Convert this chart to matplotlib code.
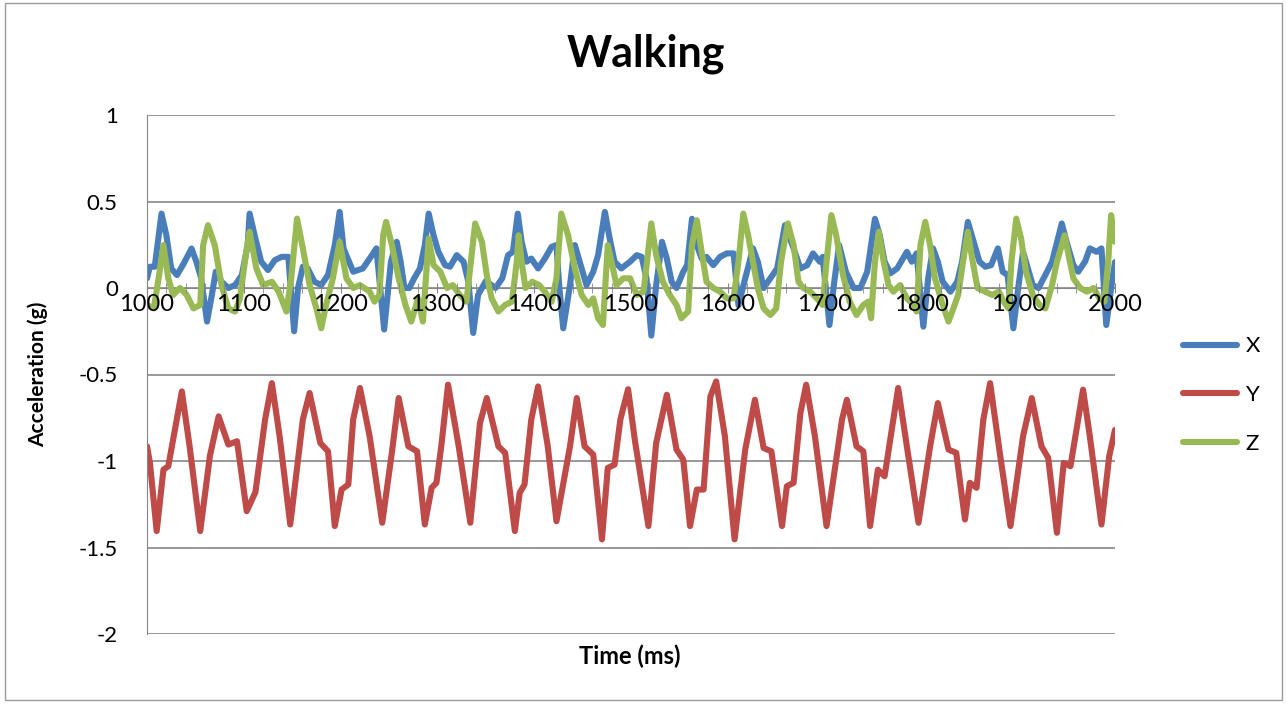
import matplotlib.pyplot as plt
from matplotlib.patches import Rectangle

# accelerometer trace, walking, 1000-2000 ms
t_x = [1000, 1003, 1008, 1015, 1020, 1025, 1031, 1037, 1046, 1051, 1056, 1062, 1067, 1071, 1077, 1084,
       1091, 1098, 1104, 1106, 1112, 1118, 1125, 1132, 1139, 1146, 1152, 1156, 1161, 1166, 1173, 1180,
       1187, 1194, 1199, 1203, 1213, 1223, 1230, 1237, 1245, 1252, 1258, 1262, 1266, 1271, 1276, 1282,
       1287, 1291, 1296, 1301, 1308, 1313, 1320, 1327, 1332, 1337, 1342, 1350, 1360, 1367, 1373, 1378,
       1383, 1387, 1392, 1397, 1404, 1411, 1418, 1423, 1426, 1430, 1437, 1442, 1447, 1454, 1461, 1466,
       1473, 1478, 1483, 1490, 1499, 1506, 1511, 1516, 1521, 1526, 1532, 1537, 1542, 1547, 1554, 1558,
       1563, 1568, 1573, 1578, 1585, 1592, 1599, 1606, 1611, 1618, 1626, 1631, 1637, 1644, 1651, 1659,
       1668, 1675, 1682, 1688, 1695, 1698, 1705, 1710, 1715, 1722, 1730, 1737, 1744, 1752, 1757, 1762,
       1768, 1775, 1781, 1785, 1790, 1795, 1802, 1807, 1812, 1817, 1822, 1830, 1837, 1842, 1848, 1853,
       1860, 1866, 1872, 1879, 1884, 1889, 1895, 1900, 1905, 1910, 1915, 1921, 1928, 1935, 1945, 1950,
       1957, 1962, 1969, 1974, 1981, 1986, 1991, 1996, 2000]
acc_x = [0.056, 0.123, 0.123, 0.43, 0.305, 0.113, 0.075, 0.132, 0.228, 0.152, 0.056, -0.194, -0.04, 0.094, 0.036, 0.0,
         0.017, 0.075, 0.248, 0.43, 0.286, 0.152, 0.104, 0.161, 0.18, 0.18, -0.25, 0.0, 0.123, 0.113, 0.036, 0.017,
         0.075, 0.248, 0.44, 0.229, 0.094, 0.113, 0.17, 0.229, -0.24, 0.152, 0.267, 0.152, 0.0, 0.0, 0.056, 0.113,
         0.248, 0.43, 0.305, 0.209, 0.132, 0.123, 0.19, 0.152, 0.036, -0.26, -0.04, 0.04, 0.0, 0.056, 0.19, 0.209,
         0.43, 0.267, 0.152, 0.17, 0.113, 0.17, 0.238, 0.248, 0.0, -0.233, 0.017, 0.248, 0.152, 0.017, 0.094, 0.19,
         0.44, 0.286, 0.152, 0.113, 0.152, 0.19, 0.18, 0.056, -0.275, 0.017, 0.267, 0.17, 0.036, 0.0, 0.094, 0.132,
         0.4, 0.248, 0.17, 0.18, 0.132, 0.18, 0.2, 0.2, -0.1, 0.056, 0.229, 0.152, 0.0, 0.056, 0.113, 0.363,
         0.229, 0.113, 0.132, 0.2, 0.152, 0.18, -0.214, 0.036, 0.248, 0.094, 0.0, 0.0, 0.094, 0.4, 0.305, 0.152,
         0.085, 0.113, 0.17, 0.209, 0.152, 0.2, -0.223, 0.056, 0.229, 0.152, 0.036, -0.021, 0.036, 0.152, 0.382, 0.286,
         0.152, 0.123, 0.132, 0.229, 0.094, 0.075, -0.233, 0.0, 0.209, 0.113, 0.017, 0.0, 0.075, 0.152, 0.373, 0.267,
         0.132, 0.094, 0.152, 0.229, 0.209, 0.229, -0.214, 0.0, 0.15]

t_y = [1000, 1003, 1010, 1017, 1022, 1036, 1044, 1055, 1065, 1074, 1084, 1093, 1103, 1112, 1122, 1129,
       1137, 1148, 1161, 1168, 1179, 1187, 1194, 1201, 1208, 1213, 1220, 1230, 1243, 1253, 1260, 1270,
       1279, 1287, 1294, 1299, 1304, 1311, 1322, 1334, 1344, 1351, 1363, 1370, 1380, 1385, 1390, 1397,
       1404, 1414, 1423, 1437, 1444, 1452, 1461, 1470, 1476, 1483, 1489, 1497, 1504, 1518, 1526, 1537,
       1547, 1554, 1561, 1568, 1575, 1582, 1588, 1597, 1607, 1618, 1628, 1637, 1645, 1656, 1661, 1668,
       1675, 1681, 1690, 1702, 1712, 1718, 1723, 1733, 1740, 1747, 1755, 1762, 1776, 1786, 1797, 1809,
       1817, 1828, 1836, 1845, 1850, 1857, 1864, 1871, 1881, 1892, 1905, 1914, 1924, 1931, 1940, 1947,
       1954, 1967, 1974, 1986, 1994, 2000]
acc_y = [-0.915, -1.01, -1.405, -1.05, -1.03, -0.598, -0.915, -1.405, -0.97, -0.742, -0.905, -0.886, -1.29, -1.18, -0.76, -0.55,
         -0.857, -1.367, -0.76, -0.607, -0.896, -0.944, -1.376, -1.165, -1.136, -0.76, -0.578, -0.857, -1.357, -0.95, -0.636, -0.915,
         -0.944, -1.367, -1.155, -1.126, -0.915, -0.559, -0.915, -1.357, -0.78, -0.636, -0.915, -0.953, -1.405, -1.184, -1.136, -0.76,
         -0.569, -0.915, -1.348, -0.915, -0.636, -0.915, -0.963, -1.453, -1.04, -1.021, -0.76, -0.585, -0.88, -1.376, -0.896, -0.617,
         -0.934, -0.992, -1.376, -1.165, -1.165, -0.627, -0.54, -0.857, -1.453, -0.934, -0.646, -0.925, -0.944, -1.376, -1.146, -1.126,
         -0.723, -0.559, -0.857, -1.376, -0.992, -0.76, -0.646, -0.915, -0.944, -1.376, -1.05, -1.088, -0.578, -0.953, -1.357, -0.915,
         -0.665, -0.934, -0.953, -1.338, -1.126, -1.155, -0.76, -0.55, -0.953, -1.376, -0.857, -0.636, -0.915, -0.982, -1.415, -1.011,
         -1.03, -0.588, -0.857, -1.367, -0.973, -0.82]

t_z = [1000, 1007, 1012, 1017, 1022, 1027, 1034, 1041, 1048, 1055, 1058, 1063, 1070, 1077, 1084, 1091,
       1096, 1103, 1106, 1113, 1120, 1129, 1136, 1144, 1149, 1155, 1161, 1168, 1175, 1180, 1185, 1192,
       1199, 1206, 1213, 1220, 1230, 1235, 1240, 1244, 1247, 1253, 1260, 1267, 1273, 1280, 1285, 1291,
       1296, 1303, 1310, 1316, 1323, 1330, 1339, 1346, 1351, 1356, 1363, 1370, 1377, 1382, 1384, 1387,
       1391, 1398, 1405, 1411, 1418, 1423, 1428, 1435, 1442, 1449, 1456, 1461, 1466, 1471, 1476, 1478,
       1485, 1492, 1499, 1506, 1513, 1521, 1526, 1533, 1540, 1547, 1552, 1559, 1563, 1568, 1573, 1578,
       1585, 1592, 1599, 1606, 1611, 1616, 1621, 1626, 1631, 1637, 1644, 1650, 1655, 1662, 1668, 1673,
       1678, 1685, 1692, 1698, 1702, 1707, 1712, 1719, 1726, 1733, 1740, 1745, 1748, 1752, 1756, 1761,
       1766, 1771, 1778, 1785, 1792, 1795, 1799, 1804, 1809, 1814, 1821, 1828, 1833, 1838, 1843, 1848,
       1853, 1858, 1866, 1873, 1880, 1885, 1890, 1893, 1898, 1903, 1908, 1915, 1922, 1928, 1935, 1940,
       1948, 1952, 1957, 1964, 1971, 1978, 1984, 1989, 1993, 1996, 2000]
acc_z = [-0.098, -0.118, 0.056, 0.248, 0.056, -0.04, 0.0, -0.04, -0.118, -0.098, 0.248, 0.363, 0.248, 0.017, -0.118, -0.136,
         -0.06, 0.229, 0.325, 0.113, 0.017, 0.036, -0.021, -0.136, 0.056, 0.401, 0.229, 0.017, -0.118, -0.233, -0.098, 0.056,
         0.267, 0.056, 0.0, 0.017, -0.021, -0.079, -0.04, 0.305, 0.382, 0.248, 0.056, -0.098, -0.194, -0.06, -0.194, 0.286,
         0.132, 0.094, 0.0, 0.017, -0.04, -0.079, 0.373, 0.267, 0.075, -0.06, -0.136, -0.098, -0.079, 0.152, 0.305, 0.152,
         0.0, 0.036, 0.017, -0.021, -0.079, 0.056, 0.43, 0.305, 0.113, -0.04, -0.098, -0.06, -0.175, -0.214, 0.248, 0.2,
         0.017, 0.056, 0.056, -0.04, -0.021, 0.373, 0.19, 0.036, -0.04, -0.098, -0.175, -0.136, 0.248, 0.392, 0.209, 0.036,
         0.0, -0.021, -0.06, -0.06, 0.152, 0.43, 0.305, 0.152, 0.0, -0.118, -0.156, -0.118, 0.152, 0.373, 0.248, 0.036,
         0.0, -0.021, -0.06, -0.098, 0.152, 0.421, 0.305, 0.075, -0.079, -0.156, -0.098, -0.079, -0.175, 0.152, 0.325, 0.152,
         0.017, -0.021, 0.017, -0.06, -0.098, -0.136, 0.248, 0.382, 0.248, 0.056, -0.079, -0.194, -0.118, -0.04, 0.152, 0.325,
         0.152, 0.0, -0.021, -0.04, -0.021, -0.079, -0.118, 0.152, 0.401, 0.286, 0.094, -0.04, -0.098, -0.118, 0.017, 0.152,
         0.305, 0.19, 0.056, 0.0, -0.021, 0.0, -0.06, -0.079, 0.152, 0.421, 0.267]

x_ticks = list(range(1000, 2001, 100))
y_ticks = [1, 0.5, 0, -0.5, -1, -1.5, -2]

font = ['Lato', 'DejaVu Sans']
grid_col = '#868686'
lw = 4.4

fig = plt.figure(figsize=(12.87, 7.04), dpi=100)
fig.patches.append(Rectangle((5 / 1287, 4 / 704), 1277 / 1287, 697 / 704, transform=fig.transFigure,
                             fill=False, edgecolor='#9a9a9a', linewidth=1.0))
ax = fig.add_axes([147 / 1287, 1 - 634 / 704, 968 / 1287, 519 / 704])

# x axis crosses at 0; set before the tick labels since it resets the ticks
ax.spines['top'].set_visible(False)
ax.spines['right'].set_visible(False)
ax.spines['left'].set_color(grid_col)
ax.spines['bottom'].set_position(('data', 0))
ax.spines['bottom'].set_color(grid_col)
ax.spines['bottom'].set_zorder(0)

ax.plot(t_x, acc_x, color='#4a7ebb', lw=lw, solid_joinstyle='round', solid_capstyle='round', label='X')
ax.plot(t_y, acc_y, color='#be4b48', lw=lw, solid_joinstyle='round', solid_capstyle='round', label='Y')
ax.plot(t_z, acc_z, color='#98b954', lw=lw, solid_joinstyle='round', solid_capstyle='round', label='Z')

ax.set_xlim(1000, 2000)
ax.set_ylim(-2, 1)
ax.set_yticks(y_ticks)
ax.set_yticklabels([f'{v:g}' for v in y_ticks], family=font, fontsize=16)
ax.set_xticks(x_ticks)
ax.set_xticklabels([str(v) for v in x_ticks], family=font, fontsize=17)
ax.set_xticks(range(1000, 2001, 20), minor=True)
for v in y_ticks:
    ax.axhline(v, color=grid_col, lw=1.2, zorder=0)

ax.tick_params(axis='y', length=0, pad=21)
ax.tick_params(axis='x', which='both', direction='inout', color=grid_col, length=7, pad=1)
ax.xaxis.set_zorder(5)  # labels sit over the traces

fig.text(646 / 1287, 1 - 54 / 704, 'Walking', family=font, fontsize=31, fontweight='bold',
         ha='center', va='center')
ax.set_ylabel('Acceleration (g)', family=font, fontsize=15, fontweight='bold', labelpad=22)
fig.text(630 / 1287, 1 - 656 / 704, 'Time (ms)', family=font, fontsize=17, fontweight='bold',
         ha='center', va='center')

leg = ax.legend(loc='center left', bbox_to_anchor=(1.05, 0.46), frameon=False, prop={'family': font, 'size': 16},
                handlelength=2.4, labelspacing=1.3, handletextpad=0.4)
for line in leg.get_lines():
    line.set_linewidth(4.4)
    line.set_solid_capstyle('round')

fig.savefig('out.png', dpi=100)
